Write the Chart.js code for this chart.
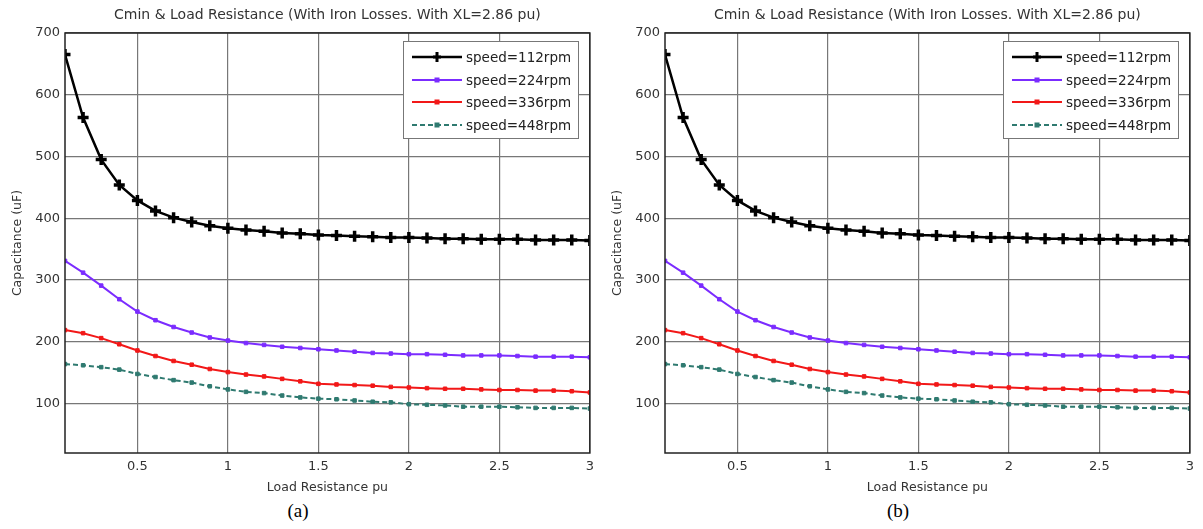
<!DOCTYPE html>
<html>
<head>
<meta charset="utf-8">
<script src="https://cdn.jsdelivr.net/npm/chart.js@4"></script>
<style>
  body { margin: 0; background: #fff; width: 1203px; height: 529px; position: relative; overflow: hidden; }
  .panel { position: absolute; top: 0; }
  .caption { position: absolute; top: 500px; width: 60px; text-align: center;
             font-family: "Liberation Serif", "Times New Roman", serif; font-size: 19px; color: #000; }
</style>
</head>
<body>
<canvas id="chart-a" class="panel" width="600" height="500" style="left:0px"></canvas>
<canvas id="chart-b" class="panel" width="600" height="500" style="left:600px"></canvas>
<div class="caption" style="left:268px">(a)</div>
<div class="caption" style="left:868px">(b)</div>
<script>
// ----------------------------------------------------------
// Datos (Cmin vs resistencia de carga)
// ----------------------------------------------------------
const loadResistance = [0.1, 0.2, 0.3, 0.4, 0.5, 0.6, 0.7, 0.8, 0.9, 1.0,
                        1.1, 1.2, 1.3, 1.4, 1.5, 1.6, 1.7, 1.8, 1.9, 2.0,
                        2.1, 2.2, 2.3, 2.4, 2.5, 2.6, 2.7, 2.8, 2.9, 3.0];

const speed112 = [665, 563, 495, 454, 429, 412, 401, 394, 388, 384,
                  381, 379, 376, 375, 373, 372, 371, 370, 369, 369,
                  368, 367, 367, 366, 366, 366, 365, 365, 365, 364];

const speed224 = [331, 312, 291, 269, 249, 235, 224, 215, 207, 202,
                  198, 195, 192, 190, 188, 186, 184, 182, 181, 180,
                  180, 179, 178, 178, 178, 177, 176, 176, 176, 175];

const speed336 = [219, 214, 206, 196, 186, 177, 169, 163, 156, 151,
                  147, 144, 140, 136, 132, 131, 130, 129, 127, 126,
                  125, 124, 124, 123, 122, 122, 121, 121, 120, 118];

const speed448 = [164, 162, 159, 155, 148, 143, 138, 134, 128, 123,
                  119, 117, 113, 110, 108, 107, 105, 103, 102, 99,
                  98, 97, 95, 95, 95, 94, 93, 93, 93, 92];

const seriesLabels = ["speed=112rpm", "speed=224rpm", "speed=336rpm", "speed=448rpm"];
const xTicks = [0.5, 1, 1.5, 2, 2.5, 3];
const yTicks = [100, 200, 300, 400, 500, 600, 700];

const chartTitle = "Cmin & Load Resistance (With Iron Losses. With XL=2.86 pu)";
const FONT = "'DejaVu Sans', Arial, sans-serif";

// ----------------------------------------------------------
// Convierte un array de valores en puntos {x, y}
// ----------------------------------------------------------
function toPoints(values) {
    return values.map((v, i) => ({ x: loadResistance[i], y: v }));
}

// ----------------------------------------------------------
// Plugin: título centrado sobre el área, marco y leyenda estilo MATLAB
// ----------------------------------------------------------
const matlabFrame = {
    id: "matlabFrame",
    afterDatasetsDraw(chart) {
        const { ctx, chartArea } = chart;
        ctx.save();

        // Título centrado sobre el área de trazado
        ctx.fillStyle = "#333";
        ctx.font = "14px " + FONT;
        ctx.textAlign = "center";
        ctx.textBaseline = "middle";
        ctx.fillText(chartTitle, (chartArea.left + chartArea.right) / 2, 15);

        ctx.strokeStyle = "#222";
        ctx.lineWidth = 1.5;
        ctx.strokeRect(chartArea.left, chartArea.top,
                       chartArea.right - chartArea.left, chartArea.bottom - chartArea.top);

        // Leyenda
        const bx = 403, by = 41, bw = 175, bh = 97;
        ctx.fillStyle = "#fff";
        ctx.fillRect(bx, by, bw, bh);
        ctx.strokeStyle = "#777";
        ctx.lineWidth = 1;
        ctx.strokeRect(bx + 0.5, by + 0.5, bw, bh);

        const rowsY = [57, 80, 102, 125];
        chart.data.datasets.forEach((ds, i) => {
            const y = rowsY[i];
            ctx.strokeStyle = ds.borderColor;
            ctx.lineWidth = ds.borderWidth;
            ctx.setLineDash(ds.borderDash || []);
            ctx.beginPath();
            ctx.moveTo(412, y);
            ctx.lineTo(462, y);
            ctx.stroke();
            ctx.setLineDash([]);
            ctx.fillStyle = ds.pointBackgroundColor;
            if (i === 0) {
                ctx.lineWidth = 3;
                ctx.beginPath();
                ctx.moveTo(437, y - 5); ctx.lineTo(437, y + 5);
                ctx.moveTo(433, y); ctx.lineTo(441, y);
                ctx.stroke();
            } else {
                ctx.fillRect(434.5, y - 2.5, 5, 5);
            }
            ctx.fillStyle = "#222";
            ctx.font = "13.5px " + FONT;
            ctx.textBaseline = "middle";
            ctx.textAlign = "left";
            ctx.fillText(ds.label, 466, y + 1);
        });
        ctx.restore();
    }
};

// ----------------------------------------------------------
// Crea un gráfico en el canvas indicado
// ----------------------------------------------------------
function renderPanel(canvasId) {
    const ctx = document.getElementById(canvasId).getContext("2d");

    return new Chart(ctx, {
        type: "line",
        data: {
            datasets: [
                {
                    label: seriesLabels[0],
                    data: toPoints(speed112),
                    borderColor: "#000000",
                    pointBackgroundColor: "#000000",
                    pointBorderColor: "#000000",
                    borderWidth: 2.5,
                    pointStyle: "cross",
                    pointRadius: 5.5,
                    pointBorderWidth: 3.5,
                    tension: 0
                },
                {
                    label: seriesLabels[1],
                    data: toPoints(speed224),
                    borderColor: "#7b2cff",
                    pointBackgroundColor: "#7b2cff",
                    pointBorderColor: "#7b2cff",
                    borderWidth: 2,
                    pointStyle: "rect",
                    pointRadius: 2.5,
                    pointBorderWidth: 1,
                    tension: 0
                },
                {
                    label: seriesLabels[2],
                    data: toPoints(speed336),
                    borderColor: "#f21818",
                    pointBackgroundColor: "#f21818",
                    pointBorderColor: "#f21818",
                    borderWidth: 2,
                    pointStyle: "rect",
                    pointRadius: 2.5,
                    pointBorderWidth: 1,
                    tension: 0
                },
                {
                    label: seriesLabels[3],
                    data: toPoints(speed448),
                    borderColor: "#2f7a70",
                    pointBackgroundColor: "#2f7a70",
                    pointBorderColor: "#2f7a70",
                    borderWidth: 2,
                    borderDash: [5, 3],
                    pointStyle: "rect",
                    pointRadius: 2.5,
                    pointBorderWidth: 1,
                    tension: 0
                }
            ]
        },
        options: {
            responsive: false,
            animation: false,
            layout: { padding: { left: 0, right: 10, top: 33, bottom: 0 } },
            plugins: {
                legend: { display: false },
                tooltip: { enabled: false },
                title: { display: false }
            },
            scales: {
                x: {
                    type: "linear",
                    min: 0.1,
                    max: 3,
                    afterBuildTicks: scale => { scale.ticks = xTicks.map(v => ({ value: v })); },
                    afterFit: scale => { scale.height = 47; },
                    grid: { color: "#777", lineWidth: 1.2, drawTicks: false },
                    border: { display: false },
                    ticks: {
                        color: "#333",
                        font: { family: FONT, size: 13 },
                        padding: 6,
                        maxRotation: 0,
                        callback: v => String(v)
                    },
                    title: {
                        display: true,
                        text: "Load Resistance pu",
                        color: "#333",
                        font: { family: FONT, size: 12.5 },
                        padding: { top: 0, bottom: 5 }
                    }
                },
                y: {
                    min: 20,
                    max: 700,
                    afterBuildTicks: scale => { scale.ticks = yTicks.map(v => ({ value: v })); },
                    afterFit: scale => { scale.width = 65; },
                    grid: { color: "#777", lineWidth: 1.2, drawTicks: false },
                    border: { display: false },
                    ticks: {
                        color: "#333",
                        font: { family: FONT, size: 13 },
                        padding: 5
                    },
                    title: {
                        display: true,
                        text: "Capacitance (uF)",
                        color: "#333",
                        font: { family: FONT, size: 12.5 },
                        padding: { top: 10, bottom: 0 }
                    }
                }
            }
        },
        plugins: [matlabFrame]
    });
}

renderPanel("chart-a");
renderPanel("chart-b");
</script>
</body>
</html>
